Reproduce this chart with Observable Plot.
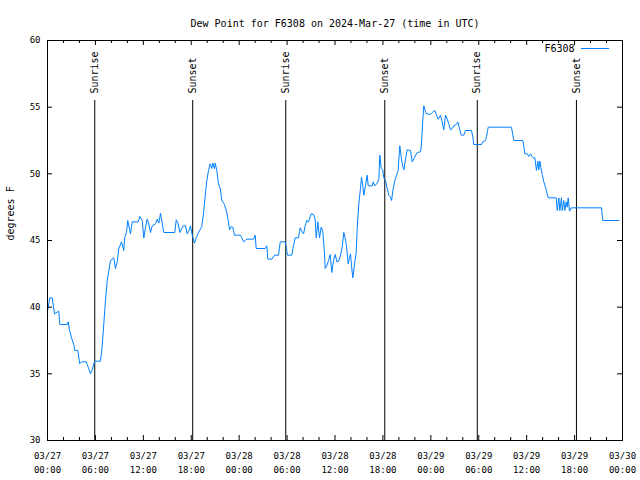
<!DOCTYPE html>
<html><head><meta charset="utf-8">
<script src="https://cdn.jsdelivr.net/npm/d3@7"></script>
<script src="https://cdn.jsdelivr.net/npm/@observablehq/plot@0.6"></script>
<style>html,body{margin:0;padding:0;background:#fff} #chart svg{display:block}</style>
</head><body><div id="chart"></div>
<script>
// Hours since 2024-03-27 00:00 UTC
const hoursSinceStart = [
  0.00,0.29,0.59,0.88,1.41,1.54,2.47,2.59,2.75,3.01,3.29,3.42,3.79,3.92,4.04,4.26,4.85,5.10,5.38,5.60,
  5.80,5.92,6.64,6.85,7.05,7.26,7.48,7.68,7.89,8.30,8.51,8.73,8.93,9.27,9.55,9.68,9.89,10.05,10.31,10.39,
  10.61,11.36,11.56,11.86,12.06,12.27,12.48,12.68,12.90,13.11,13.52,13.74,13.94,14.15,14.36,14.56,15.94,16.12,16.37,16.57,
  16.78,16.99,17.28,17.49,17.69,17.91,18.12,18.41,18.62,18.91,19.32,19.53,19.75,19.95,20.16,20.37,20.57,20.70,20.91,21.00,
  21.20,21.41,21.63,21.83,22.16,22.45,22.66,22.79,23.00,23.20,23.42,24.13,24.33,24.54,24.76,24.96,25.80,26.01,26.13,27.26,
  27.46,27.59,28.09,28.42,28.93,29.14,29.76,29.89,30.05,30.59,30.80,31.02,31.43,31.64,31.84,32.06,32.27,32.47,32.68,33.02,
  33.31,33.52,33.65,33.85,34.06,34.27,34.47,34.69,34.77,34.97,35.19,35.40,35.60,35.81,36.03,36.23,36.48,36.69,36.90,37.10,
  37.23,37.44,37.65,37.82,37.94,38.07,38.23,38.48,38.66,38.78,38.98,39.19,39.32,39.48,39.61,39.82,40.03,40.16,40.66,40.78,
  40.98,41.28,41.49,41.61,41.79,41.99,42.11,42.32,42.54,42.74,42.95,43.08,43.29,43.49,43.70,43.91,44.11,44.29,44.42,44.62,
  44.83,45.04,45.45,45.67,45.99,46.29,46.71,46.83,46.99,47.12,47.25,47.46,47.96,48.17,48.50,48.71,48.92,49.21,49.42,49.62,
  49.84,50.05,50.25,50.46,50.68,50.88,51.18,51.38,51.59,51.80,52.13,52.34,53.09,53.26,53.38,54.35,54.51,54.85,54.97,55.10,
  55.19,58.10,58.27,58.39,59.52,59.64,59.77,60.07,60.27,60.48,60.69,60.82,61.02,61.23,61.40,61.52,61.65,61.77,61.95,62.15,
  62.36,62.57,62.70,63.70,63.83,64.03,64.15,64.36,64.45,64.65,64.78,64.95,65.08,65.20,65.36,65.58,69.37,69.53,71.54
];
const dewPointF = [
  39.7,40.7,40.7,39.5,39.7,38.7,38.7,38.9,38.3,37.7,37.2,36.75,36.75,36.25,35.75,35.9,35.9,35.5,35.0,35.3,
  35.75,35.95,35.95,37.1,38.75,40.5,42.0,42.75,43.5,43.7,42.9,43.4,44.4,44.9,44.25,45.25,45.6,46.5,45.75,45.5,
  46.4,46.4,46.8,46.5,45.2,46.0,46.6,46.25,45.6,46.1,46.25,46.6,46.3,47.05,46.3,45.6,45.6,46.55,46.25,45.6,
  45.85,46.1,46.1,45.5,45.7,46.1,45.4,44.8,45.2,45.6,46.05,47.0,48.4,49.5,50.25,50.75,50.4,50.8,50.4,50.8,
  50.25,49.25,48.9,48.0,47.7,47.1,46.4,45.8,46.05,46.0,45.4,45.4,45.2,44.9,45.0,45.1,45.1,45.4,44.4,44.4,
  44.6,43.6,43.6,43.9,43.9,44.9,44.9,44.5,43.9,43.9,44.6,45.2,45.2,45.95,45.7,45.5,46.1,46.5,46.4,47.0,
  46.95,46.6,45.2,46.4,45.2,46.0,45.7,44.0,42.9,43.1,43.5,43.95,42.6,43.5,43.95,43.4,43.45,43.9,44.5,45.6,
  45.3,44.6,43.25,43.75,44.0,43.1,42.2,43.4,44.1,45.9,47.75,48.9,49.75,49.1,48.4,49.1,49.9,49.1,49.1,49.4,
  49.1,49.3,49.6,51.4,50.4,50.3,49.7,49.5,48.9,48.4,48.25,48.0,48.9,49.5,49.9,50.25,52.1,51.25,50.75,50.3,
  51.1,51.8,51.75,50.9,51.25,51.6,51.65,52.25,54.0,55.1,54.8,54.5,54.45,54.6,54.75,54.4,54.1,54.4,53.9,53.3,
  54.4,54.1,53.75,53.3,53.4,53.6,53.7,53.9,53.4,52.9,52.9,53.25,53.25,52.75,52.2,52.2,52.4,52.5,52.8,53.25,
  53.5,53.5,52.9,52.5,52.5,52.1,51.5,51.5,51.3,51.5,51.3,51.2,51.2,50.25,50.95,50.3,50.95,50.5,49.95,49.4,
  49.0,48.5,48.2,48.2,47.25,48.2,47.25,48.2,47.25,48.0,47.25,47.9,47.5,48.2,47.2,47.45,47.45,46.5,46.5
];
const sunEventLabels = ["Sunrise","Sunset","Sunrise","Sunset","Sunrise","Sunset"];
const sunEventTimes = ["2024-03-27T05:55Z","2024-03-27T18:11Z","2024-03-28T05:50Z","2024-03-28T18:14Z","2024-03-29T05:49Z","2024-03-29T18:14Z"];
const yTicks = [30,35,40,45,50,55,60];
const seriesName = "F6308";
const titleText = "Dew Point for F6308 on 2024-Mar-27 (time in UTC)";
const yLabel = "degrees F";

const t0 = Date.UTC(2024, 2, 27);
const start = new Date(t0), end = new Date(Date.UTC(2024, 2, 30));
const data = hoursSinceStart.map((h, i) => ({time: new Date(t0 + h * 3600e3), value: dewPointF[i]}));
const sun = sunEventTimes.map((t, i) => ({time: new Date(t), label: sunEventLabels[i]}));
const majorX = d3.utcHour.every(6).range(start, new Date(+end + 1));
const minorX = d3.utcHour.every(2).range(start, new Date(+end + 1)).filter(d => d.getUTCHours() % 6 !== 0);
const fmt = d3.utcFormat("%m/%d\n%H:%M");
const mono = "DejaVu Sans Mono";
const W = 640, H = 480, mL = 47, mR = 18, mT = 40, mB = 40;
const pw = W - mL - mR, ph = H - mT - mB;
const col = "#0080ff";

const chart = Plot.plot({
  width: W, height: H,
  marginLeft: mL, marginRight: mR, marginTop: mT, marginBottom: mB,
  style: {fontFamily: mono, fontSize: "10px", background: "white", color: "black"},
  x: {type: "utc", domain: [start, end], axis: null},
  y: {domain: [30, 60], axis: null},
  marks: [
    // sunrise / sunset lines and labels
    Plot.ruleX(sun, {x: "time", insetTop: 60, stroke: "black", strokeWidth: 1}),
    Plot.text(sun, {x: "time", text: "label", rotate: -90, frameAnchor: "top", textAnchor: "start", lineAnchor: "middle", dy: 53, fill: "black", fontSize: 10}),
    // data line
    Plot.line(data, {x: "time", y: "value", stroke: col, strokeWidth: 1}),
    // x ticks (inward, mirrored)
    Plot.ruleX(majorX, {x: d => d, insetTop: ph - 5, stroke: "black"}),
    Plot.ruleX(majorX, {x: d => d, insetBottom: ph - 5, stroke: "black"}),
    Plot.ruleX(minorX, {x: d => d, insetTop: ph - 3, stroke: "black"}),
    Plot.ruleX(minorX, {x: d => d, insetBottom: ph - 3, stroke: "black"}),
    // y ticks (inward, mirrored)
    Plot.ruleY(yTicks, {y: d => d, insetRight: pw - 5, stroke: "black"}),
    Plot.ruleY(yTicks, {y: d => d, insetLeft: pw - 5, stroke: "black"}),
    Plot.frame({stroke: "black", strokeWidth: 1}),
    // tick labels
    Plot.text(majorX, {x: d => d, text: d => fmt(d), frameAnchor: "bottom", lineAnchor: "top", dy: 9, lineHeight: 1.5, fontSize: 9, fill: "black"}),
    Plot.text(yTicks, {y: d => d, text: d => String(d), frameAnchor: "left", textAnchor: "end", dx: -7, fontSize: 9, fill: "black"}),
    // axis label, title, legend
    Plot.text([yLabel], {text: d => d, frameAnchor: "left", rotate: -90, dx: -37, fontSize: 10, fill: "black"}),
    Plot.text([titleText], {text: d => d, frameAnchor: "top", dy: -21, fontSize: 10, fill: "black"}),
    Plot.text([seriesName], {text: d => d, frameAnchor: "top-right", textAnchor: "end", lineAnchor: "middle", dx: -48, dy: 8, fontSize: 10, fill: "black"}),
    Plot.ruleY([60], {y: d => d, dy: 8, insetLeft: pw - 41, insetRight: 13, stroke: col})
  ]
});
document.getElementById("chart").append(chart);
</script>
</body></html>
